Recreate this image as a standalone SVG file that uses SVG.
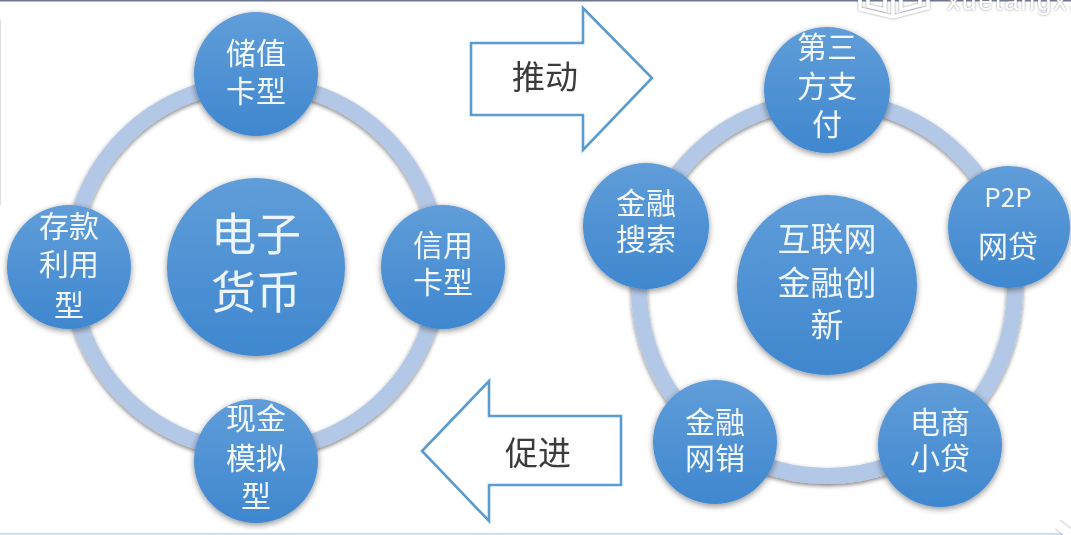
<svg xmlns="http://www.w3.org/2000/svg" width="1071" height="535" viewBox="0 0 1071 535">
<style>
text{font-family:"Noto Sans CJK SC","Noto Sans",sans-serif;text-anchor:middle}
.n{fill:url(#g);filter:url(#s)}
.t{fill:#f2f7fc;font-size:30px}
.p{fill:#f2f7fc;font-size:26px}
.c{fill:#eef4fb;font-size:45px}
.m{fill:#eef4fb;font-size:33px}
.r{fill:none;stroke:#b3c8e6;stroke-width:16;filter:url(#s2)}
.a{fill:#fff;stroke:#5a9bd0;stroke-width:2.6;stroke-linejoin:miter}
.l{fill:#3a3a3a;font-size:33px}
</style>
<defs>
<linearGradient id="g" x1="0" y1="0" x2="0" y2="1"><stop offset="0" stop-color="#609dd9"/><stop offset="1" stop-color="#3f87cf"/></linearGradient>
<filter id="s" x="-20%" y="-20%" width="140%" height="140%"><feGaussianBlur in="SourceAlpha" stdDeviation="3"/><feOffset dy="2"/><feComponentTransfer><feFuncA type="linear" slope=".45"/></feComponentTransfer><feMerge><feMergeNode/><feMergeNode in="SourceGraphic"/></feMerge></filter>
<filter id="s2" x="-10%" y="-10%" width="120%" height="120%"><feGaussianBlur in="SourceAlpha" stdDeviation="2"/><feOffset dy="2"/><feComponentTransfer><feFuncA type="linear" slope=".5"/></feComponentTransfer><feMerge><feMergeNode/><feMergeNode in="SourceGraphic"/></feMerge></filter>
<filter id="w" x="-10%" y="-30%" width="120%" height="160%"><feFlood flood-color="#888" result="f"/><feComposite in="f" in2="SourceAlpha" operator="in"/><feGaussianBlur stdDeviation="1.3"/><feMerge><feMergeNode/><feMergeNode in="SourceGraphic"/></feMerge></filter>
<filter id="soft" x="0" y="0" width="100%" height="100%"><feGaussianBlur stdDeviation="0.45"/></filter>
</defs>
<rect width="1071" height="535" fill="#fff"/>
<g filter="url(#soft)">
<rect id="top-edge" width="1071" height="1.5" fill="#6d7593"/>
<rect id="bottom-edge" y="533" width="1071" height="2" fill="#cfe0f2"/>
<rect id="left-edge" y="20" width="1" height="185" fill="#ddd"/>
<path id="corner-mark" d="M1057 524L1071 535" stroke="#fff" stroke-width="9" stroke-linecap="round" filter="url(#w)"/>
<g id="connectors">
<circle class="r" cx="255" cy="267" r="184"/>
<circle class="r" cx="827" cy="288" r="188"/>
<path id="arrow-push" class="a" d="M471 43H583V8L652 78L583 150V115H471Z"/>
<path id="arrow-promote" class="a" d="M621 416H489V381L422 451L489 521V485H621Z"/>
</g>
<g id="label-push"><text class="l" x="545" y="89">推动</text></g>
<g id="label-promote"><text class="l" x="538" y="465">促进</text></g>
<g id="node-emoney"><circle class="n" cx="256" cy="267" r="89"/><text class="c" x="256" y="251">电子</text><text class="c" x="256" y="309">货币</text></g>
<g id="node-stored"><circle class="n" cx="256" cy="74" r="62"/><text class="t" x="256" y="64">储值</text><text class="t" x="256" y="102">卡型</text></g>
<g id="node-credit"><circle class="n" cx="443" cy="267" r="62"/><text class="t" x="443" y="256">信用</text><text class="t" x="443" y="293">卡型</text></g>
<g id="node-cash"><circle class="n" cx="256" cy="461" r="62"/><text class="t" x="256" y="429">现金</text><text class="t" x="256" y="469">模拟</text><text class="t" x="256" y="507">型</text></g>
<g id="node-deposit"><circle class="n" cx="69" cy="267" r="62"/><text class="t" x="69" y="237">存款</text><text class="t" x="69" y="275">利用</text><text class="t" x="69" y="316">型</text></g>
<g id="node-fintech"><circle class="n" cx="827" cy="285" r="90"/><text class="m" x="827" y="251">互联网</text><text class="m" x="827" y="295">金融创</text><text class="m" x="827" y="337">新</text></g>
<g id="node-thirdparty"><circle class="n" cx="827" cy="90" r="63"/><text class="t" x="827" y="58">第三</text><text class="t" x="827" y="97">方支</text><text class="t" x="827" y="135">付</text></g>
<g id="node-p2p"><circle class="n" cx="1009" cy="227" r="61"/><text class="p" x="1008" y="207">P2P</text><text class="t" x="1008" y="257">网贷</text></g>
<g id="node-microloan"><circle class="n" cx="940" cy="445" r="62"/><text class="t" x="940" y="433">电商</text><text class="t" x="940" y="469">小贷</text></g>
<g id="node-marketing"><circle class="n" cx="715" cy="442" r="62"/><text class="t" x="715" y="433">金融</text><text class="t" x="715" y="469">网销</text></g>
<g id="node-search"><circle class="n" cx="646" cy="226" r="63"/><text class="t" x="646" y="214">金融</text><text class="t" x="646" y="250">搜索</text></g>
<g id="watermark"><path d="M860 0V9L893 17L928 8V0M893 17V0M868 0V6L885 10V0M901 0V10L920 5V0" fill="none" stroke="#fff" stroke-width="3.5" filter="url(#w)"/><text x="947" y="10" font-size="26" fill="#fff" filter="url(#w)" style="font-family:'Liberation Sans',sans-serif;text-anchor:start;letter-spacing:2px">xuetangx.</text></g>
</g>
</svg>
